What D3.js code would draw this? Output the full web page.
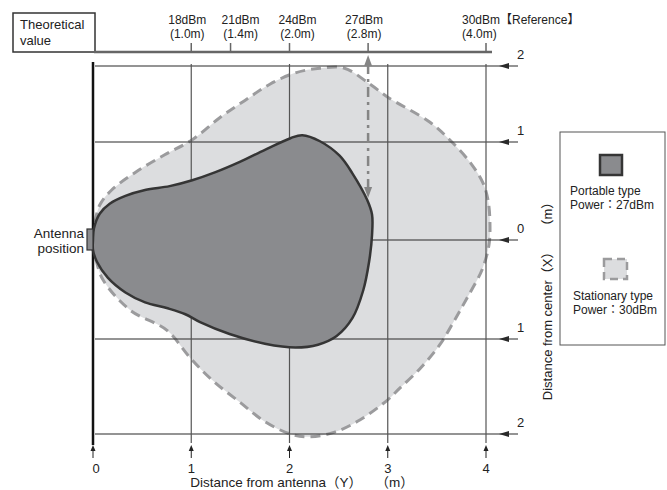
<!DOCTYPE html>
<html>
<head>
<meta charset="utf-8">
<script src="https://cdn.jsdelivr.net/npm/d3@7"></script>
<style>
  body { margin: 0; background: #fff; }
  text { font-family: "Liberation Sans", Arial, "Noto Sans CJK JP", sans-serif; fill: #222; }
</style>
</head>
<body>
<div id="chart"></div>
<script>
// Chart data
var yDistTicks = [0, 1, 2, 3, 4];               // distance from antenna (m)
var xCenterTicks = [2, 1, 0, -1, -2];           // distance from center (m)
var xCenterLabels = ["2", "1", "0", "1", "2"];
var theoDist = [1.0, 1.4, 2.0, 2.8, 4.0];       // theoretical range (m)
var theoPower = ["18dBm", "21dBm", "24dBm", "27dBm", "30dBm"];
var theoDistLabels = ["(1.0m)", "(1.4m)", "(2.0m)", "(2.8m)", "(4.0m)"];

// Portable type 27dBm outline [Y, X]
var portable = [
  [0, 0], [0.01, 0.12], [0.07, 0.27], [0.17, 0.37], [0.33, 0.45], [0.53, 0.51],
  [0.78, 0.55], [1.01, 0.61], [1.24, 0.69], [1.50, 0.80], [1.75, 0.92], [2.01, 1.05],
  [2.13, 1.09], [2.31, 1.01], [2.51, 0.86], [2.64, 0.68], [2.79, 0.41], [2.84, 0.26],
  [2.84, 0.05], [2.81, -0.22], [2.75, -0.51], [2.64, -0.79], [2.48, -0.97], [2.29, -1.06],
  [2.06, -1.09], [1.75, -1.05], [1.39, -0.95], [1.09, -0.83], [0.94, -0.75], [0.76, -0.69],
  [0.53, -0.63], [0.33, -0.53], [0.15, -0.38], [0.04, -0.22], [0, -0.10]
];
// Stationary type 30dBm outline [Y, X]
var stationary = [
  [0, 0], [0.02, 0.18], [0.07, 0.36], [0.19, 0.51], [0.43, 0.69], [0.73, 0.87],
  [1.01, 1.03], [1.29, 1.32], [1.55, 1.55], [1.80, 1.76], [2.06, 1.91], [2.31, 1.97],
  [2.56, 1.97], [2.82, 1.76], [3.00, 1.59], [3.43, 1.26], [3.63, 1.03], [3.84, 0.79],
  [3.97, 0.58], [4.02, 0.41], [4.04, 0.18], [4.03, -0.05], [3.96, -0.30], [3.81, -0.58],
  [3.68, -0.81], [3.53, -1.06], [3.33, -1.31], [3.12, -1.52], [3.00, -1.64], [2.72, -1.85],
  [2.46, -1.98], [2.21, -2.03], [2.01, -2.00], [1.75, -1.87], [1.50, -1.67], [1.21, -1.43],
  [0.99, -1.20], [0.75, -0.91], [0.38, -0.71], [0.10, -0.40], [0.03, -0.20], [0, -0.10]
];

var svgWidth = 667;
var svgHeight = 490;

var svg = d3.select("#chart")
  .append("svg")
  .attr("width", svgWidth)
  .attr("height", svgHeight);

// scales (vertical spacing in the original is not uniform)
var xScale = d3.scaleLinear().domain([0, 4]).range([93, 486]);
var yScale = d3.scaleLinear().domain([2, 1, 0, -1, -2]).range([66, 142, 240, 339, 434]);

var line = d3.line()
  .x(d => xScale(d[0]))
  .y(d => yScale(d[1]))
  .curve(d3.curveCatmullRomClosed.alpha(0.5));

// stationary area (behind the grid)
svg.append("path")
  .attr("d", line(stationary))
  .attr("fill", "#dcdddf")
  .attr("stroke", "#9b9b9d")
  .attr("stroke-width", 3)
  .attr("stroke-dasharray", "10,6");

// horizontal lines + arrows at right
xCenterTicks.forEach(function(v, i) {
  var y = yScale(v);
  svg.append("line")
    .attr("x1", 95).attr("x2", 518)
    .attr("y1", y).attr("y2", y)
    .attr("stroke", "#2a2a2a").attr("stroke-width", 1.2);
  svg.append("path")
    .attr("d", `M499,${y} L509,${y - 3} L509,${y + 3} Z`)
    .attr("fill", "#2a2a2a");
  svg.append("text")
    .attr("x", 517).attr("y", y - 7)
    .attr("font-size", 13)
    .text(xCenterLabels[i]);
});

// vertical grid lines + arrows at bottom
yDistTicks.forEach(function(v) {
  var x = xScale(v);
  if (v > 0) {
    svg.append("line")
      .attr("x1", x).attr("x2", x)
      .attr("y1", 64).attr("y2", 443)
      .attr("stroke", "#555").attr("stroke-width", 1.2);
  }
  svg.append("line")
    .attr("x1", x).attr("x2", x)
    .attr("y1", 458).attr("y2", 449)
    .attr("stroke", "#222").attr("stroke-width", 1);
  svg.append("path")
    .attr("d", `M${x},${445} L${x - 2.5},${451} L${x + 2.5},${451} Z`)
    .attr("fill", "#222");
  svg.append("text")
    .attr("x", v === 0 ? x + 3 : x).attr("y", 473)
    .attr("text-anchor", "middle")
    .attr("font-size", 13)
    .text(v);
});

// antenna baseline
svg.append("line")
  .attr("x1", 93).attr("x2", 93)
  .attr("y1", 62).attr("y2", 445)
  .attr("stroke", "#111").attr("stroke-width", 2.5);

// portable area
svg.append("path")
  .attr("d", line(portable))
  .attr("fill", "#8a8b8e")
  .attr("stroke", "#353535")
  .attr("stroke-width", 2.5);

// antenna
svg.append("rect")
  .attr("x", 87).attr("y", 229)
  .attr("width", 6).attr("height", 21)
  .attr("fill", "#8a8b8e").attr("stroke", "#333").attr("stroke-width", 1.2);
svg.append("text").attr("x", 84).attr("y", 238).attr("text-anchor", "end")
  .attr("font-size", 13.5).text("Antenna");
svg.append("text").attr("x", 84).attr("y", 253).attr("text-anchor", "end")
  .attr("font-size", 13.5).text("position");

// dash-dot double arrow at 27dBm
var ax = xScale(2.8);
svg.append("line")
  .attr("x1", ax).attr("x2", ax)
  .attr("y1", 64).attr("y2", 188)
  .attr("stroke", "#858585").attr("stroke-width", 2.5)
  .attr("stroke-dasharray", "10,5,3,5");
svg.append("path")
  .attr("d", `M${ax},55 L${ax - 4},66 L${ax + 4},66 Z`)
  .attr("fill", "#858585");
svg.append("path")
  .attr("d", `M${ax},198 L${ax - 4},187 L${ax + 4},187 Z`)
  .attr("fill", "#858585");

// theoretical value axis
svg.append("rect")
  .attr("x", 13).attr("y", 13)
  .attr("width", 82).attr("height", 39)
  .attr("fill", "none").attr("stroke", "#333").attr("stroke-width", 1.5);
svg.append("text").attr("x", 20).attr("y", 29).attr("font-size", 13).text("Theoretical");
svg.append("text").attr("x", 20).attr("y", 45).attr("font-size", 13).text("value");
svg.append("line")
  .attr("x1", 94).attr("x2", 492)
  .attr("y1", 52).attr("y2", 52)
  .attr("stroke", "#666").attr("stroke-width", 2.5);

// label nudges so the stacked labels don't collide (as in the original)
var labelShift = [-4, 10, 8, -4, -24];
theoDist.forEach(function(d, i) {
  var x = xScale(d);
  svg.append("line")
    .attr("x1", x).attr("x2", x)
    .attr("y1", 52).attr("y2", 43)
    .attr("stroke", "#666").attr("stroke-width", 1.5);
  var last = i === theoDist.length - 1;
  var tx = x + labelShift[i];
  var anchor = last ? "start" : "middle";
  svg.append("text").attr("x", tx).attr("y", 24)
    .attr("text-anchor", anchor).attr("font-size", 12)
    .text(last ? theoPower[i] + "【Reference】" : theoPower[i]);
  svg.append("text").attr("x", tx).attr("y", 38)
    .attr("text-anchor", anchor).attr("font-size", 12)
    .text(theoDistLabels[i]);
});

// axis titles
svg.append("text")
  .attr("x", 302).attr("y", 487)
  .attr("text-anchor", "middle").attr("font-size", 13.5)
  .text("Distance from antenna（Y）　　（m）");
svg.append("text")
  .attr("transform", "translate(552, 298) rotate(-90)")
  .attr("text-anchor", "middle").attr("font-size", 13)
  .text("Distance from center（X）　　（m）");

// legend
svg.append("rect")
  .attr("x", 560).attr("y", 132)
  .attr("width", 105).attr("height", 213)
  .attr("fill", "#fff").attr("stroke", "#555").attr("stroke-width", 1);
svg.append("rect")
  .attr("x", 600).attr("y", 155)
  .attr("width", 22).attr("height", 20)
  .attr("fill", "#8a8b8e").attr("stroke", "#353535").attr("stroke-width", 2.5);
svg.append("text").attr("x", 570).attr("y", 195).attr("font-size", 12).text("Portable type");
svg.append("text").attr("x", 570).attr("y", 209).attr("font-size", 12).text("Power：27dBm");
svg.append("rect")
  .attr("x", 604).attr("y", 259)
  .attr("width", 23).attr("height", 20)
  .attr("fill", "#dcdddf").attr("stroke", "#9b9b9d").attr("stroke-width", 2.5)
  .attr("stroke-dasharray", "8,5");
svg.append("text").attr("x", 573).attr("y", 300).attr("font-size", 12).text("Stationary type");
svg.append("text").attr("x", 573).attr("y", 314).attr("font-size", 12).text("Power：30dBm");
</script>
</body>
</html>
